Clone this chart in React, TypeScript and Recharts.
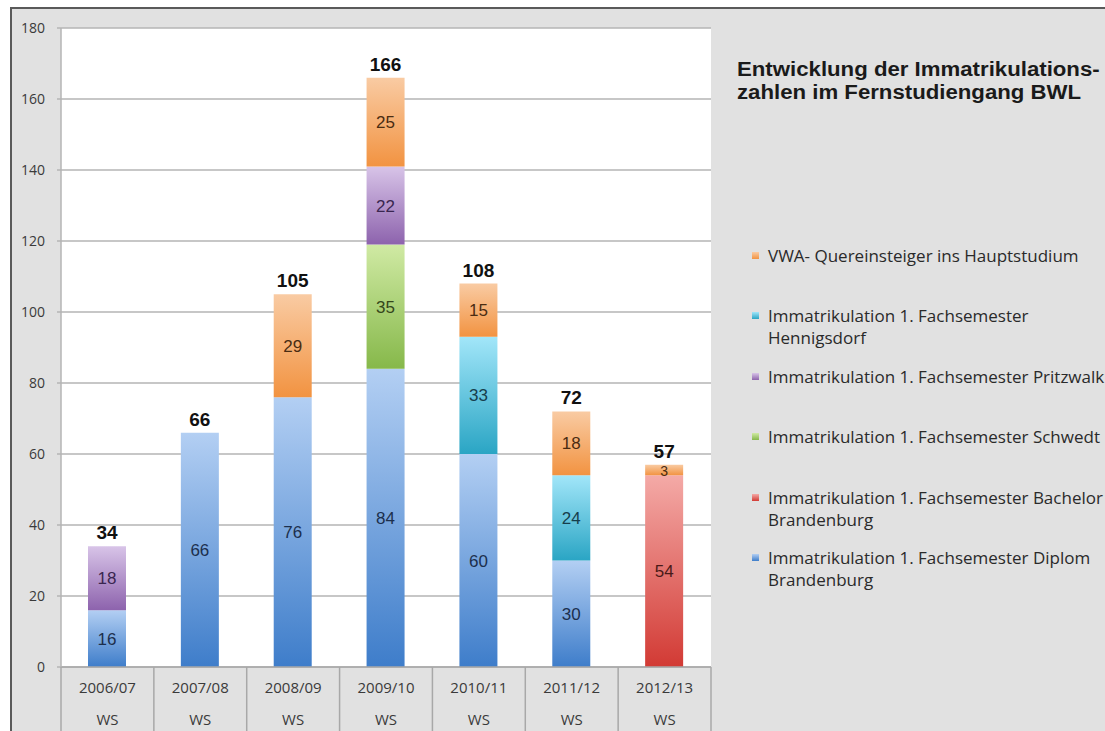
import { BarChart, Bar, XAxis, YAxis, CartesianGrid, LabelList } from 'recharts';

const semesters = ['2006/07', '2007/08', '2008/09', '2009/10', '2010/11', '2011/12', '2012/13'];
const term = 'WS';
const diplom = [16, 66, 76, 84, 60, 30, 0];
const bachelor = [0, 0, 0, 0, 0, 0, 54];
const schwedt = [0, 0, 0, 35, 0, 0, 0];
const pritzwalk = [18, 0, 0, 22, 0, 0, 0];
const hennigsdorf = [0, 0, 0, 0, 33, 24, 0];
const vwa = [0, 0, 29, 25, 15, 18, 3];
const yTicks = [0, 20, 40, 60, 80, 100, 120, 140, 160, 180];

const titleLines = ['Entwicklung der Immatrikulations-', 'zahlen im Fernstudiengang BWL'];

// stack order bottom -> top
const series = [
    { key: 'diplom', name: 'Immatrikulation 1. Fachsemester Diplom Brandenburg', values: diplom, top: '#b3cff3', bottom: '#3e7dca', text: '#1c2f4d' },
    { key: 'bachelor', name: 'Immatrikulation 1. Fachsemester Bachelor Brandenburg', values: bachelor, top: '#f4aaa7', bottom: '#d23a34', text: '#4a1a18' },
    { key: 'schwedt', name: 'Immatrikulation 1. Fachsemester Schwedt', values: schwedt, top: '#d0eaa4', bottom: '#86b84a', text: '#35461c' },
    { key: 'pritzwalk', name: 'Immatrikulation 1. Fachsemester Pritzwalk', values: pritzwalk, top: '#d8c4e8', bottom: '#8d63ad', text: '#3a2650' },
    { key: 'hennigsdorf', name: 'Immatrikulation 1. Fachsemester Hennigsdorf', values: hennigsdorf, top: '#a2e6f9', bottom: '#2aa5c4', text: '#163e4c' },
    { key: 'vwa', name: 'VWA- Quereinsteiger ins Hauptstudium', values: vwa, top: '#f9cba3', bottom: '#f29341', text: '#4a2c12' },
];

const data = semesters.map((s, i) => {
    const entry: any = { name: s };
    let total = 0;
    series.forEach((se) => {
        entry[se.key] = se.values[i];
        total += se.values[i];
    });
    entry.total = total;
    return entry;
});

const W = 1105;
const H = 731;
const PLOT_LEFT = 61;
const PLOT_RIGHT = 711;
const PLOT_TOP = 28;
const PLOT_BOTTOM = 667;
const band = (PLOT_RIGHT - PLOT_LEFT) / semesters.length;

const topSeriesKey = (i: number) => {
    let k = '';
    series.forEach((se) => {
        if (se.values[i] > 0) k = se.key;
    });
    return k;
};

const CategoryTick = (props: any) => {
    const { x, index } = props;
    const label = semesters[index];
    return (
        <g>
            <line x1={x - band / 2} x2={x - band / 2} y1={PLOT_BOTTOM} y2={H} stroke="#a8a8a8" strokeWidth={1.5} />
            {index === semesters.length - 1 && (
                <line x1={x + band / 2} x2={x + band / 2} y1={PLOT_BOTTOM} y2={H} stroke="#a8a8a8" strokeWidth={1.5} />
            )}
            <text x={x} y={PLOT_BOTTOM + 26} textAnchor="middle" fontSize={15} fill="#3a3a3a" fontFamily="Open Sans">
                {label}
            </text>
            <text x={x} y={PLOT_BOTTOM + 58} textAnchor="middle" fontSize={15} fill="#3a3a3a" fontFamily="Open Sans">
                {term}
            </text>
        </g>
    );
};

const ValueTick = (props: any) => {
    const { x, y, payload } = props;
    return (
        <text x={x} y={y} dy={5} textAnchor="end" fontSize={14} fill="#3a3a3a" fontFamily="Open Sans">
            {payload.value}
        </text>
    );
};

const LegendBox = () => {
    const items = [...series].reverse();
    return (
        <div style={{ position: 'absolute', left: 752, top: 245, fontFamily: 'Open Sans', fontSize: 17, color: '#2a2a2a' }}>
            {items.map((se) => (
                <div key={se.key} style={{ height: 60.4, display: 'flex', alignItems: 'flex-start', lineHeight: '22px' }}>
                    <div
                        style={{
                            width: 7,
                            height: 7,
                            marginTop: 7,
                            marginRight: 9,
                            flex: '0 0 auto',
                            background: `linear-gradient(${se.top}, ${se.bottom})`,
                        }}
                    />
                    <div style={{ width: 338 }}>{se.name}</div>
                </div>
            ))}
        </div>
    );
};

const SegmentLabel = (se: any) => (p: any) => {
    const { x, y, width, height, value } = p;
    if (!value) return null;
    const idx = Math.floor((x + width / 2 - PLOT_LEFT) / band);
    const cx = x + width / 2;
    const isTop = topSeriesKey(idx) === se.key;
    return (
        <g>
            <text
                x={cx}
                y={y + height / 2}
                dy={6}
                textAnchor="middle"
                fontSize={value < 10 ? 14 : 17}
                fontFamily="Liberation Sans"
                fill={se.text}
            >
                {value}
            </text>
            {isTop && (
                <text x={cx} y={y - 7} textAnchor="middle" fontSize={19} fontWeight="bold" fontFamily="Liberation Sans" fill="#111">
                    {data[idx].total}
                </text>
            )}
        </g>
    );
};

const App = () => {
    return (
        <div style={{ position: 'absolute', left: 0, top: 0, width: W, height: H, background: '#fff', overflow: 'hidden' }}>
            <div
                style={{
                    position: 'absolute',
                    left: 10,
                    top: 7,
                    width: W - 10,
                    height: H - 7,
                    background: '#e1e1e1',
                    borderLeft: '2px solid #5a5a5a',
                    borderTop: '2px solid #5a5a5a',
                    boxSizing: 'border-box',
                }}
            />
            <div
                style={{
                    position: 'absolute',
                    left: 737,
                    top: 58,
                    fontFamily: 'Liberation Sans',
                    fontWeight: 'bold',
                    fontSize: 20,
                    lineHeight: '23px',
                    color: '#1a1a1a',
                    transform: 'scaleX(1.11)',
                    transformOrigin: 'left top',
                    whiteSpace: 'nowrap',
                }}
            >
                {titleLines.map((t) => (
                    <div key={t}>{t}</div>
                ))}
            </div>
            <LegendBox />
            <div style={{ position: 'absolute', left: 0, top: 0 }}>
                <BarChart
                    width={W}
                    height={H}
                    data={data}
                    margin={{ top: PLOT_TOP, left: PLOT_LEFT - 50, right: W - PLOT_RIGHT, bottom: 0 }}
                    barSize={38}
                >
                    <defs>
                        {series.map((se) => (
                            <linearGradient key={se.key} id={`g-${se.key}`} x1="0" y1="0" x2="0" y2="1">
                                <stop offset="0%" stopColor={se.top} />
                                <stop offset="100%" stopColor={se.bottom} />
                            </linearGradient>
                        ))}
                    </defs>
                    <CartesianGrid vertical={false} stroke="#b4b4b4" strokeWidth={1.5} fill="#ffffff" />
                    <XAxis
                        dataKey="name"
                        height={H - PLOT_BOTTOM}
                        axisLine={{ stroke: '#a8a8a8', strokeWidth: 1.5 }}
                        tickLine={false}
                        tick={<CategoryTick />}
                        interval={0}
                    />
                    <YAxis
                        width={50}
                        domain={[0, 180]}
                        ticks={yTicks}
                        axisLine={{ stroke: '#b4b4b4', strokeWidth: 1.5 }}
                        tickLine={{ stroke: '#b4b4b4', strokeWidth: 1.5 }}
                        tickSize={4}
                        tickMargin={12}
                        tick={<ValueTick />}
                    />
                    {series.map((se) => (
                        <Bar key={se.key} dataKey={se.key} name={se.name} stackId="a" fill={`url(#g-${se.key})`} isAnimationActive={false}>
                            <LabelList dataKey={se.key} content={SegmentLabel(se)} />
                        </Bar>
                    ))}
                </BarChart>
            </div>
        </div>
    );
};

export default App;
